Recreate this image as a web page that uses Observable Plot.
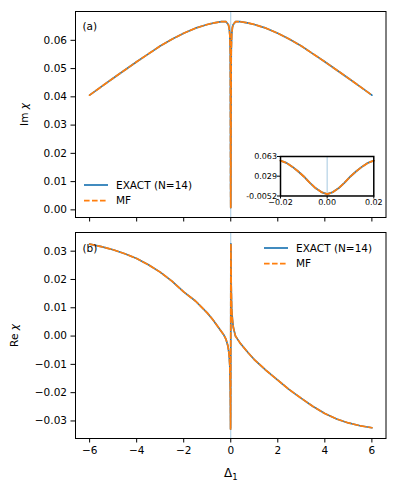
<!DOCTYPE html>
<html>
<head>
<meta charset="utf-8">
<script src="https://cdn.jsdelivr.net/npm/d3@7"></script>
<script src="https://cdn.jsdelivr.net/npm/@observablehq/plot@0.6"></script>
<style>
  html, body { margin: 0; padding: 0; background: white; }
  #wrap { position: relative; width: 397px; height: 491px; font-family: "DejaVu Sans", sans-serif; }
  #wrap > div, #wrap > svg { position: absolute; }
  .lg text { font-family: "DejaVu Sans", sans-serif; font-size: 10.5px; fill: black; }
</style>
</head>
<body>
<div id="wrap"></div>
<script>
// ---- data ----
const xTicks = [-6, -4, -2, 0, 2, 4, 6];
const imTicks = [0, 0.01, 0.02, 0.03, 0.04, 0.05, 0.06];
const reTicks = [-0.03, -0.02, -0.01, 0, 0.01, 0.02, 0.03];

// Im chi (symmetric in Delta_1), main panel
const imX = [-6, -5.5, -5, -4.5, -4, -3.5, -3, -2.5, -2, -1.5, -1, -0.7, -0.4, -0.2, -0.1, -0.07, -0.04, -0.02, -0.015, -0.01, -0.005, 0,
             0.005, 0.01, 0.015, 0.02, 0.04, 0.07, 0.1, 0.2, 0.4, 0.7, 1, 1.5, 2, 2.5, 3, 3.5, 4, 4.5, 5, 5.5, 6];
const imV = [0.0406, 0.0436, 0.0466, 0.0495, 0.0524, 0.0552, 0.0580, 0.0604, 0.0625, 0.0643, 0.0656, 0.0662, 0.0666, 0.0666, 0.0655, 0.0645, 0.0620, 0.0558, 0.0455, 0.0285, 0.0085, 0.0008,
             0.0085, 0.0285, 0.0455, 0.0558, 0.0620, 0.0645, 0.0655, 0.0666, 0.0666, 0.0662, 0.0656, 0.0643, 0.0625, 0.0604, 0.0580, 0.0552, 0.0524, 0.0495, 0.0466, 0.0436, 0.0406];

// Re chi, main panel
const reX = [-6, -5.5, -5, -4.5, -4, -3.5, -3, -2.5, -2, -1.5, -1, -0.75, -0.5, -0.3, -0.2, -0.12, -0.07, -0.04, -0.02, -0.01, -0.007, -0.004, -0.002, 0,
             0.002, 0.004, 0.007, 0.01, 0.02, 0.04, 0.07, 0.11, 0.2, 0.28, 0.4, 0.5, 0.75, 1, 1.5, 2, 2.5, 3, 3.5, 4, 4.5, 5, 5.5, 6];
const reV = [0.0325, 0.0316, 0.0305, 0.0291, 0.0274, 0.0252, 0.0226, 0.0194, 0.0156, 0.0124, 0.0082, 0.0057, 0.0028, 0.0005, -0.0012, -0.0035, -0.0065, -0.0105, -0.0185, -0.0290, -0.0328, -0.0260, -0.0140, 0,
             0.0140, 0.0260, 0.0326, 0.0290, 0.0175, 0.0095, 0.0060, 0.0030, 0.0000, -0.0010, -0.0025, -0.0035, -0.0060, -0.0083, -0.0121, -0.0156, -0.0190, -0.0220, -0.0249, -0.0274, -0.0293, -0.0307, -0.0317, -0.0324];

// inset: Im chi zoomed on |Delta_1| <= 0.02
const insX = [-0.02, -0.0175, -0.015, -0.0125, -0.01, -0.0075, -0.005, -0.0025, 0, 0.0025, 0.005, 0.0075, 0.01, 0.0125, 0.015, 0.0175, 0.02];
const insV = [0.0558, 0.0520, 0.0455, 0.0375, 0.0285, 0.0180, 0.0085, 0.0015, -0.0021, 0.0015, 0.0085, 0.0180, 0.0285, 0.0375, 0.0455, 0.0520, 0.0558];
const insXTicks = [-0.02, 0, 0.02];
const insXLabels = ["\u22120.02", "0.00", "0.02"];
const insYTicks = [-0.0052, 0.029, 0.063];
const insYLabels = ["-0.0052", "0.029", "0.063"];

const seriesNames = ["EXACT (N=14)", "MF"];
const panelLabels = ["(a)", "(b)"];

// ---- build ----
const C0 = "#1f77b4", C1 = "#ff7f0e";
const dash = "5.6,2.4";
const imData = imX.map((x, i) => ({x, v: imV[i]}));
const reData = reX.map((x, i) => ({x, v: reV[i]}));
const insData = insX.map((x, i) => ({x, v: insV[i]}));
const fmt2 = d3.format(".2f");
const baseStyle = {fontFamily: "DejaVu Sans", fontSize: "10.5px", background: "transparent", color: "black", overflow: "visible"};

function curveMarks(data, w) {
  return [
    Plot.ruleX([0], {stroke: C0, strokeOpacity: 0.4, strokeWidth: 1}),
    Plot.line(data, {x: "x", y: "v", stroke: C0, strokeWidth: w}),
    Plot.line(data, {x: "x", y: "v", stroke: C1, strokeWidth: w, strokeDasharray: dash})
  ];
}

const wrap = document.getElementById("wrap");

const topPlot = Plot.plot({
  width: 397, height: 225,
  marginLeft: 75, marginRight: 11.5, marginTop: 11, marginBottom: 8,
  style: baseStyle,
  x: {domain: [-6.6, 6.6], ticks: xTicks, tickFormat: () => "", tickSize: 4.5, label: null},
  y: {domain: [-0.0027, 0.0702], ticks: imTicks, tickFormat: fmt2, tickSize: 4.5, tickPadding: 4,
      label: "Im χ", labelAnchor: "center", labelArrow: "none", labelOffset: 55},
  marks: [
    Plot.frame({fill: "white"}),
    ...curveMarks(imData, 1.7),
    Plot.frame({stroke: "black", strokeWidth: 1}),
    Plot.text([panelLabels[0]], {frameAnchor: "top-left", dx: 7, dy: 11, textAnchor: "start", lineAnchor: "top", fontSize: 10.5})
  ]
});
topPlot.style.left = "0px"; topPlot.style.top = "0px";
wrap.appendChild(topPlot);

const botPlot = Plot.plot({
  width: 397, height: 266,
  marginLeft: 75, marginRight: 11.5, marginTop: 7, marginBottom: 53,
  style: baseStyle,
  x: {domain: [-6.6, 6.6], ticks: xTicks, tickFormat: d3.format("d"), tickSize: 4.5, tickPadding: 4,
      label: "Δ1", labelAnchor: "center", labelArrow: "none", labelOffset: 38},
  y: {domain: [-0.0362, 0.0366], ticks: reTicks, tickFormat: fmt2, tickSize: 4.5, tickPadding: 4,
      label: "Re χ", labelAnchor: "center", labelArrow: "none", labelOffset: 65},
  marks: [
    Plot.frame({fill: "white"}),
    ...curveMarks(reData, 1.7),
    Plot.frame({stroke: "black", strokeWidth: 1}),
    Plot.text([panelLabels[1]], {frameAnchor: "top-left", dx: 7, dy: 12, textAnchor: "start", lineAnchor: "top", fontSize: 10.5})
  ]
});
botPlot.style.left = "0px"; botPlot.style.top = "225px";
wrap.appendChild(botPlot);

// italic chi / subscript in axis labels
function fixLabels(svg) {
  svg.querySelectorAll("text").forEach(t => {
    if (t.textContent === "Im χ") t.innerHTML = 'Im <tspan font-style="italic">χ</tspan>';
    if (t.textContent === "Re χ") t.innerHTML = 'Re <tspan font-style="italic">χ</tspan>';
    if (t.textContent === "Δ1") {
      t.innerHTML = '<tspan font-size="12px">Δ</tspan><tspan font-size="8.5px" dy="3">1</tspan>';
    }
  });
}
fixLabels(topPlot); fixLabels(botPlot);

const insPlot = Plot.plot({
  width: 145.3, height: 59.5,
  marginLeft: 40, marginRight: 12, marginTop: 6, marginBottom: 14,
  style: {...baseStyle, fontSize: "8px"},
  x: {domain: [-0.02, 0.02], ticks: insXTicks, tickFormat: (d, i) => insXLabels[i], tickSize: 3, tickPadding: 0.5, label: null},
  y: {domain: [-0.0052, 0.063], ticks: insYTicks, tickFormat: (d, i) => insYLabels[i], tickSize: 3, tickPadding: 0.5, label: null},
  marks: [
    Plot.frame({fill: "white"}),
    ...curveMarks(insData, 1.8),
    Plot.frame({stroke: "black", strokeWidth: 1.5})
  ]
});
insPlot.style.left = "240px"; insPlot.style.top = "149.5px";
wrap.appendChild(insPlot);

// legends
function legend(left, top) {
  const ns = "http://www.w3.org/2000/svg";
  const svg = document.createElementNS(ns, "svg");
  svg.setAttribute("width", 120); svg.setAttribute("height", 34);
  svg.setAttribute("class", "lg");
  svg.style.left = left + "px"; svg.style.top = top + "px";
  seriesNames.forEach((name, i) => {
    const y = 8 + i * 15.7;
    const ln = document.createElementNS(ns, "line");
    ln.setAttribute("x1", 0); ln.setAttribute("x2", 24);
    ln.setAttribute("y1", y); ln.setAttribute("y2", y);
    ln.setAttribute("stroke", i === 0 ? C0 : C1);
    ln.setAttribute("stroke-width", 1.7);
    if (i === 1) ln.setAttribute("stroke-dasharray", dash);
    svg.appendChild(ln);
    const tx = document.createElementNS(ns, "text");
    tx.setAttribute("x", 32); tx.setAttribute("y", y); tx.setAttribute("dy", "0.35em");
    tx.textContent = name;
    svg.appendChild(tx);
  });
  wrap.appendChild(svg);
}
legend(84, 177);
legend(264, 240);
</script>
</body>
</html>
